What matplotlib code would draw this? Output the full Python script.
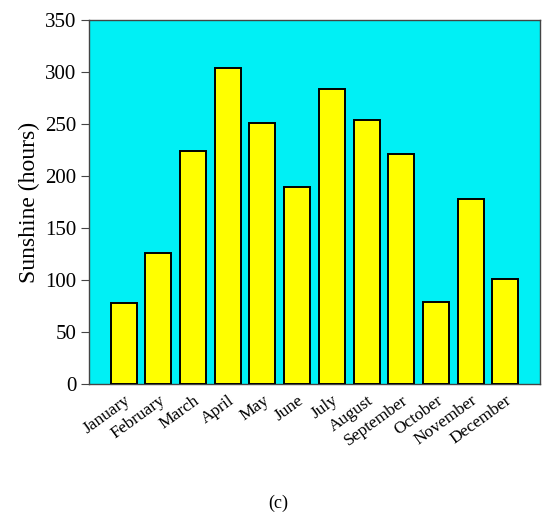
import numpy as np
import matplotlib
matplotlib.use('Agg')
import matplotlib.pyplot as plt

# Monthly sunshine hours
months = ['January', 'February', 'March', 'April', 'May', 'June',
          'July', 'August', 'September', 'October', 'November', 'December']
sunshine = [78, 126, 224, 304, 251, 189, 284, 254, 221, 79, 178, 101]
yticks = [0, 50, 100, 150, 200, 250, 300, 350]

plt.rcParams['font.family'] = ['Liberation Serif', 'DejaVu Serif']

fig = plt.figure(figsize=(5.55, 5.21), dpi=100)
ax = fig.add_axes([89 / 555, 1 - 384 / 521, 451 / 555, 364 / 521])

x = np.arange(len(months))
ax.bar(x, sunshine, width=0.75, color='#ffff00', edgecolor='black', linewidth=1.4, zorder=3)

ax.set_facecolor('#00f0f5')
ax.set_xlim(-1, len(months))
ax.set_ylim(0, 350)
ax.set_yticks(yticks)
ax.set_xticks(x)
ax.set_xticklabels(months, rotation=36, ha='right', rotation_mode='anchor', fontsize=12.5)
ax.tick_params(axis='x', length=0, pad=6)
ax.tick_params(axis='y', length=6, labelsize=15, pad=3, color='#444444')
ax.set_ylabel('Sunshine (hours)', fontsize=17, labelpad=4)

for side in ax.spines.values():
    side.set_color('#444444')
    side.set_linewidth(1.0)

fig.text(278 / 555, 1 - 503 / 521, '(c)', ha='center', va='center', fontsize=13)

plt.savefig('out.png', dpi=100)
